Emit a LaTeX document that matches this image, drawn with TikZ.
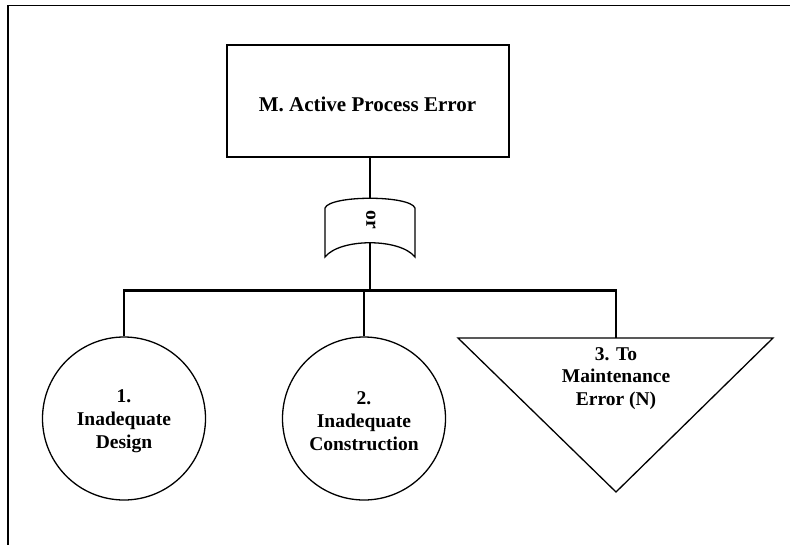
\documentclass[tikz,border=0pt]{standalone}
\usepackage{fontspec}
\setmainfont{Liberation Serif}
\begin{document}
\begin{tikzpicture}[x=1pt,y=-1pt,
  outline/.style={draw=black,line width=1.3pt},
  link/.style={draw=black,line width=2.6pt},
  lbl/.style={font=\bfseries\fontsize{19.5}{22.8}\selectfont,align=center,inner sep=0pt},
  basic/.style={outline,circle,minimum size=163pt,inner sep=0pt}]
  \clip (0,0) rectangle (790,544);
  % page frame (left and top edges visible)
  \draw[line width=1.6pt] (800,5.5) -- (8,5.5) -- (8,560);

  % top event
  \node[outline,rectangle,minimum width=282pt,minimum height=112pt,inner sep=0pt] (top) at (368,101) {};
  \node[font=\bfseries\fontsize{21}{24}\selectfont,inner sep=0pt] (toplbl) at (367.5,104) {M. Active Process Error};

  % OR gate
  \node[inner sep=0pt,minimum width=90pt,minimum height=59pt] (gate) at (370,227.5) {};
  \node[rotate=-90,font=\bfseries\fontsize{19.5}{22}\selectfont,inner sep=0pt] (gatelbl) at (371,220) {or};
  \coordinate (gateout) at (370,243);
  \draw[outline] (325,208) .. controls (330,195) and (410,195) .. (415,208)
                 -- (415,257) .. controls (400,238) and (340,238) .. (325,257) -- cycle;

  % basic events
  \node[basic] (c1) at (124,418.5) {};
  \node[lbl] (c1lbl) at (124,421) {1.\\Inadequate\\Design};
  \node[basic] (c2) at (364,418.5) {};
  \node[lbl] (c2lbl) at (364,421) {2.\\Inadequate\\Construction};

  % transfer triangle
  \coordinate (tri) at (616,338);
  \coordinate (triL) at (458,338);
  \coordinate (triR) at (773,338);
  \coordinate (triB) at (616,492);
  \draw[outline,line join=miter] (triL) -- (triR) -- (triB) -- cycle;
  \node[lbl] (trilbl) at (616,378.5) {3. To\\Maintenance\\Error (N)};

  % connectors
  \coordinate (bar) at (370,290.5);
  \draw[link] (top.south -| gate.north) -- (gate.north);
  \draw[link] (gateout) -- (bar);
  \draw[link,line join=miter] (c1.north) |- (bar) -| (tri);
  \draw[link] (c2.north) -- (c2.north |- bar);
\end{tikzpicture}
\end{document}
